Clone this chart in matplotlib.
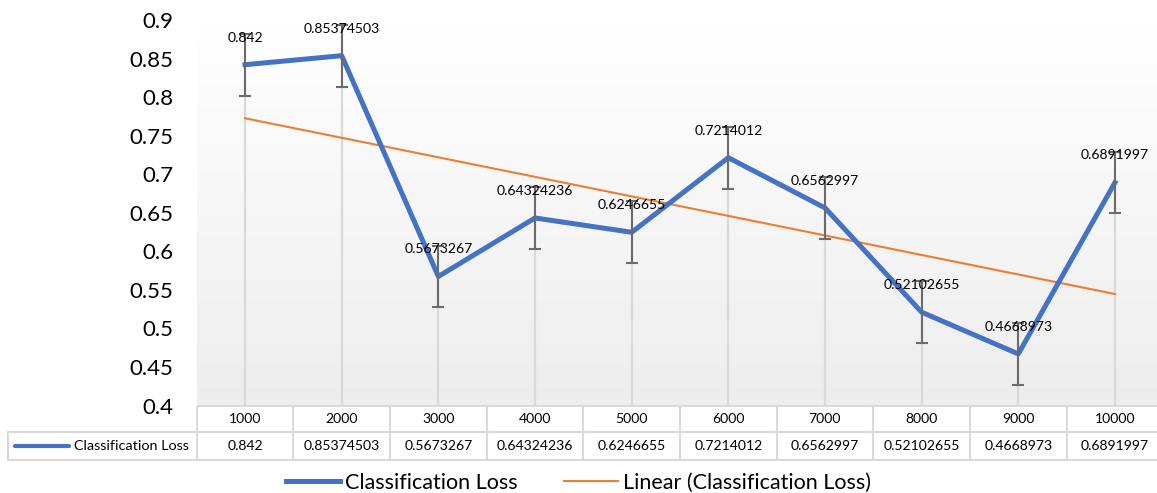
import numpy as np
import matplotlib
matplotlib.use("Agg")
import matplotlib.pyplot as plt
from matplotlib.lines import Line2D
from matplotlib.transforms import blended_transform_factory

plt.rcParams['font.family'] = ['Lato', 'DejaVu Sans']

# data
steps = ['1000', '2000', '3000', '4000', '5000', '6000', '7000', '8000', '9000', '10000']
loss = [0.842, 0.85374503, 0.5673267, 0.64324236, 0.6246655,
        0.7214012, 0.6562997, 0.52102655, 0.4668973, 0.6891997]
loss_labels = ['0.842', '0.85374503', '0.5673267', '0.64324236', '0.6246655',
               '0.7214012', '0.6562997', '0.52102655', '0.4668973', '0.6891997']
err = 0.04
series_name = 'Classification Loss'
trend_name = 'Linear (Classification Loss)'
yticks = [0.4, 0.45, 0.5, 0.55, 0.6, 0.65, 0.7, 0.75, 0.8, 0.85, 0.9]

BLUE = '#4472C4'
ORANGE = '#ED7D31'
GRID = '#d9d9d9'

W, H = 1157, 493
fig = plt.figure(figsize=(W / 100, H / 100), dpi=100)

# plot area in pixels (x0, x1 from left, y0 top, y1 bottom)
px0, px1, py0, py1 = 196.7, 1163.3, 20.0, 405.5
ax = fig.add_axes([px0 / W, 1 - py1 / H, (px1 - px0) / W, (py1 - py0) / H])

def fy(py):
    return 1 - py / H

x = np.arange(len(steps))
ax.set_xlim(-0.5, len(steps) - 0.5)
ax.set_ylim(0.4, 0.9)

# gradient background
grad = np.linspace(1.0, 0.93, 256).reshape(-1, 1)
ax.imshow(np.dstack([grad, grad, grad]), extent=[0, 1, 0, 1], transform=ax.transAxes,
          aspect='auto', zorder=0)

# drop lines
ax.vlines(x, 0.4, loss, color=GRID, lw=1.6, zorder=1)

# trendline
k, b = np.polyfit(x, loss, 1)
ax.plot(x, k * x + b, color=ORANGE, lw=1.5, zorder=2)

# series
ax.plot(x, loss, color=BLUE, lw=3.6, solid_joinstyle='round', zorder=3)
ax.errorbar(x, loss, yerr=err, fmt='none', ecolor='#6b6b6b', elinewidth=1.5,
            capsize=4.3, capthick=1.5, zorder=4)

for xi, yi, lab in zip(x, loss, loss_labels):
    ax.annotate(lab, (xi, yi), xytext=(0, 19.5), textcoords='offset points',
                ha='center', va='center', fontsize=10.1, color='black', zorder=5)

ax.set_yticks(yticks)
ax.set_yticklabels(['0.4', '0.45', '0.5', '0.55', '0.6', '0.65', '0.7', '0.75',
                    '0.8', '0.85', '0.9'], fontsize=16)
ax.tick_params(axis='y', length=0, pad=17)
ax.set_xticks([])
for s in ax.spines.values():
    s.set_visible(False)

# data table under the plot
tr = blended_transform_factory(ax.transData, fig.transFigure)
r0, r1, r2 = 405.5, 431.7, 460.0
bounds = np.arange(len(steps) + 1) - 0.5
ax.vlines(bounds, fy(r2), fy(r0), transform=tr, color=GRID, lw=1.5, clip_on=False)
ax.hlines(fy(r0), -0.5, len(steps) - 0.5, transform=tr, color=GRID, lw=1.5, clip_on=False)
for yy in (r1, r2):
    fig.add_artist(Line2D([8 / W, 1], [fy(yy), fy(yy)], color=GRID, lw=1.5))
fig.add_artist(Line2D([8 / W, 8 / W], [fy(r1), fy(r2)], color=GRID, lw=1.5))

for xi, s, lab in zip(x, steps, loss_labels):
    ax.text(xi, fy((r0 + r1) / 2), s, transform=tr, ha='center', va='center',
            fontsize=10.1, clip_on=False)
    ax.text(xi, fy((r1 + r2) / 2), lab, transform=tr, ha='center', va='center',
            fontsize=10.1, clip_on=False)

ym = fy((r1 + r2) / 2)
fig.add_artist(Line2D([15 / W, 69 / W], [ym, ym], color=BLUE, lw=3, solid_capstyle='round'))
fig.text(74 / W, ym, series_name, ha='left', va='center', fontsize=10.4)

# legend
handles = [Line2D([], [], color=BLUE, lw=3.6), Line2D([], [], color=ORANGE, lw=1.5)]
fig.legend(handles, [series_name, trend_name], loc='center', bbox_to_anchor=(0.5, fy(483)),
           ncol=2, frameon=False, fontsize=15.5, handlelength=2.5, handletextpad=0.2,
           columnspacing=2.2, borderpad=0, borderaxespad=0)

fig.savefig('out.png', dpi=100)
